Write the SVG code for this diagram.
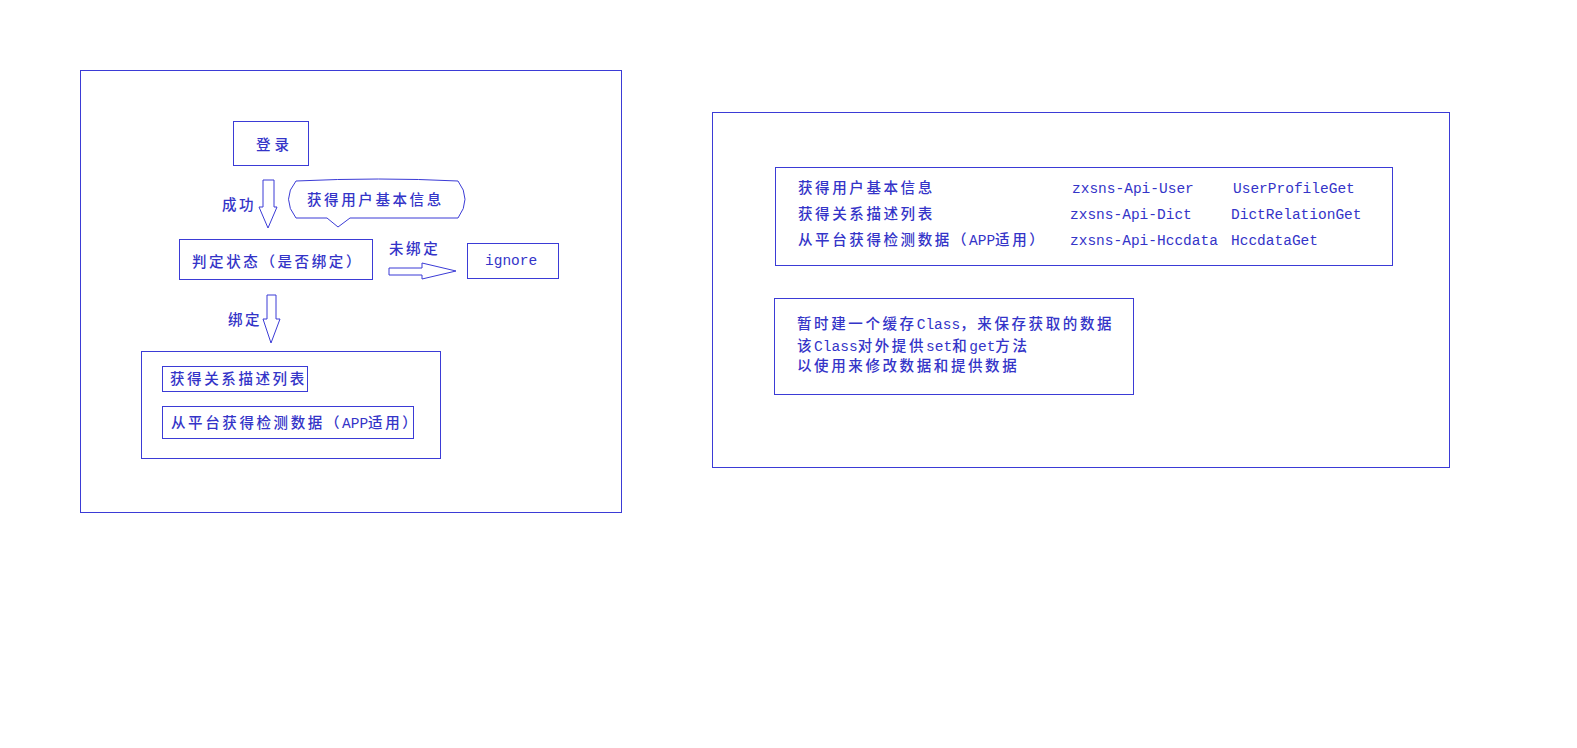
<svg xmlns="http://www.w3.org/2000/svg" width="1577" height="748" viewBox="0 0 1577 748">
<style>
.b{fill:none;stroke:#3b3bd6;stroke-width:1}
rect.b{shape-rendering:crispEdges}
.a{fill:#fff;stroke:#3b3bd6;stroke-width:1}
text{font-family:"Liberation Mono","Noto Sans CJK SC",monospace;font-size:14.5px;fill:#3434c8}
.c{font-family:"Noto Sans CJK SC","Liberation Mono",sans-serif;letter-spacing:2.6px;font-weight:500}
</style>
<rect width="1577" height="748" fill="#fff"/>
<g id="left-frame"><rect class="b" x="80.5" y="70.5" width="541" height="442"/></g>
<g id="login"><rect class="b" x="233.5" y="121.5" width="75" height="44"/><text class="c" x="256" y="150" style="letter-spacing:4px">登录</text></g>
<g id="callout"><path class="b" d="M296,181 Q380,177 458,181 Q472,199 458,218 L350,218 L338,227 L327,218 L296,218 Q281,199 296,181 Z"/><text class="c" x="307" y="205">获得用户基本信息</text></g>
<g id="judge"><rect class="b" x="179.5" y="239.5" width="193" height="40"/><text class="c" x="192" y="267">判定状态（是否绑定）</text></g>
<g id="ignore"><rect class="b" x="467.5" y="243.5" width="91" height="35"/><text x="485" y="265">ignore</text></g>
<g id="bound-group"><rect class="b" x="141.5" y="351.5" width="299" height="107"/>
<g id="dict"><rect class="b" x="162.5" y="366.5" width="145" height="25"/><text class="c" x="170" y="384">获得关系描述列表</text></g>
<g id="hcc"><rect class="b" x="162.5" y="406.5" width="251" height="32"/><text x="171" y="428"><tspan class="c">从平台获得检测数据（</tspan>APP<tspan class="c">适用）</tspan></text></g>
</g>
<g id="connectors">
<polygon class="a" points="263,180 274,180 274,207 277,207 268,228 259,207 263,207"/>
<text class="c" x="222" y="210">成功</text>
<polygon class="a" points="389,268 422,268 422,263 456,271 422,279 422,275 389,275"/>
<text class="c" x="389" y="254">未绑定</text>
<polygon class="a" points="267,295 276,295 276,319 280,319 271,343 263,319 267,319"/>
<text class="c" x="228" y="325">绑定</text>
</g>
<g id="right-frame"><rect class="b" x="712.5" y="112.5" width="737" height="355"/></g>
<g id="api-table"><rect class="b" x="775.5" y="167.5" width="617" height="98"/>
<text class="c" x="798" y="193">获得用户基本信息</text>
<text x="1072" y="193">zxsns-Api-User</text>
<text x="1233" y="193">UserProfileGet</text>
<text class="c" x="798" y="219">获得关系描述列表</text>
<text x="1070" y="219">zxsns-Api-Dict</text>
<text x="1231" y="219">DictRelationGet</text>
<text x="798" y="245"><tspan class="c">从平台获得检测数据（</tspan>APP<tspan class="c">适用）</tspan></text>
<text x="1070" y="245">zxsns-Api-Hccdata</text>
<text x="1231" y="245">HccdataGet</text>
</g>
<g id="note"><rect class="b" x="774.5" y="298.5" width="359" height="96"/>
<text x="797" y="329"><tspan class="c">暂时建一个缓存</tspan>Class<tspan class="c">，来保存获取的数据</tspan></text>
<text x="797" y="351"><tspan class="c">该</tspan>Class<tspan class="c">对外提供</tspan>set<tspan class="c">和</tspan>get<tspan class="c">方法</tspan></text>
<text x="797" y="371"><tspan class="c">以使用来修改数据和提供数据</tspan></text>
</g>
</svg>
